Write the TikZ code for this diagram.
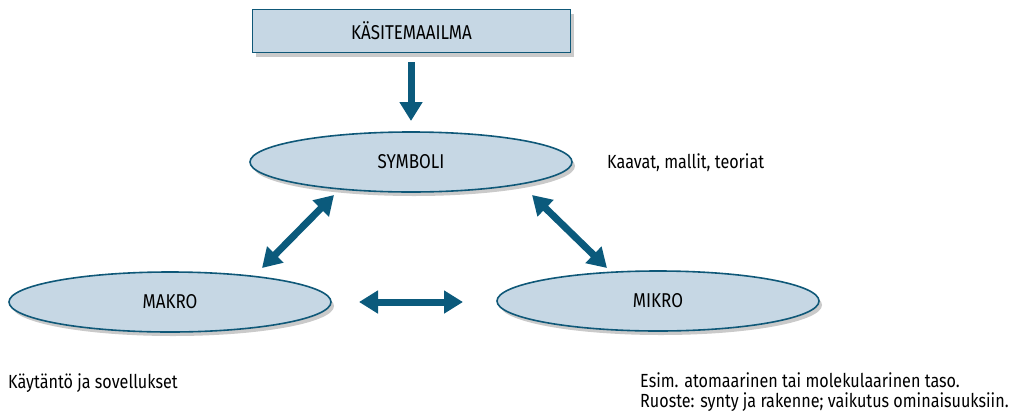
\documentclass[tikz,border=0pt]{standalone}
\usepackage{fontspec}
\setmainfont{Fira Sans}[FakeStretch=0.85]
\usetikzlibrary{arrows.meta,shapes.geometric,shadows}
\definecolor{boxfill}{HTML}{C6D7E4}
\definecolor{boxline}{HTML}{0F5878}
\definecolor{arr}{HTML}{0B5A7C}
\tikzset{
  shad/.style={drop shadow={shadow xshift=3pt,shadow yshift=-4pt,opacity=0.35,fill=black!60}},
  ell/.style={ellipse,draw=boxline,line width=1.6pt,fill=boxfill,minimum width=322pt,minimum height=60pt,inner sep=0pt,shad,font=\fontsize{20}{22}\selectfont},
  topbox/.style={rectangle,draw=boxline,line width=1.6pt,fill=boxfill,minimum width=318pt,minimum height=43pt,inner sep=0pt,shad,font=\fontsize{20}{22}\selectfont},
  bigarrow/.style={draw=arr,line width=7pt,-{Triangle[width=22pt,length=19pt]}},
  dblarrow/.style={draw=arr,line width=7pt,{Triangle[width=22pt,length=19pt]}-{Triangle[width=22pt,length=19pt]}},
  note/.style={inner sep=0pt,font=\fontsize{19}{20}\selectfont,align=left}
}
\begin{document}
\begin{tikzpicture}[x=1pt,y=-1pt]
\useasboundingbox (0,0) rectangle (1014,418);
\node[topbox] (kasite) at (411.5,31) {KÄSITEMAAILMA};
\node[ell] (symboli) at (411,162) {SYMBOLI};
\node[ell] (makro) at (170,302) {MAKRO};
\node[ell] (mikro) at (658,301) {MIKRO};
\coordinate (d1) at (411,62);
\coordinate (d2) at (411,121);
\draw[bigarrow] (d1) -- (d2);
\coordinate (h1) at (359,302);
\coordinate (h2) at (463,302);
\draw[dblarrow] (h1) -- (h2);
\coordinate (l1) at (262,268);
\coordinate (l2) at (334,195);
\draw[dblarrow] (l1) -- (l2);
\coordinate (r1) at (532,195);
\coordinate (r2) at (607,268);
\draw[dblarrow] (r1) -- (r2);
\node[note,anchor=west] (kaavat) at (607,163) {Kaavat, mallit, teoriat};
\node[note,anchor=west] (kaytanto) at (8,383) {Käytäntö ja sovellukset};
\node[note,anchor=north west] (esim) at (640,372) {Esim. atomaarinen tai molekulaarinen taso.\\Ruoste: synty ja rakenne; vaikutus ominaisuuksiin.};
\end{tikzpicture}
\end{document}
